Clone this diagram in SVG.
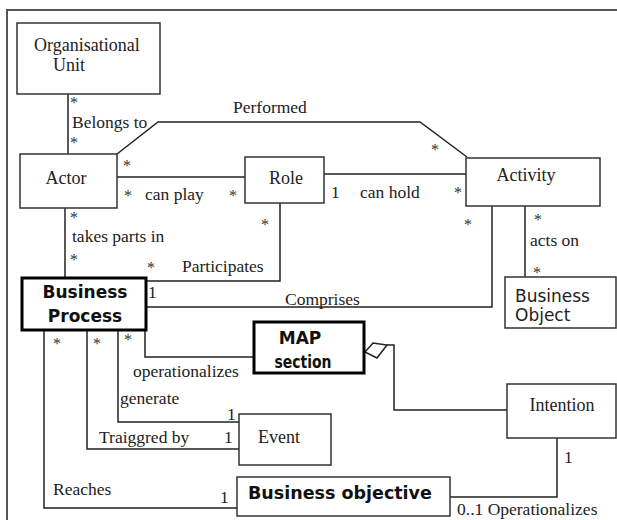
<svg xmlns="http://www.w3.org/2000/svg" width="617" height="520" viewBox="0 0 617 520">
<style>
.box{fill:#fff;stroke:#333;stroke-width:1.5}
.bbox{fill:#fff;stroke:#000;stroke-width:3}
.ln{fill:none;stroke:#222;stroke-width:1.5}
.frame{fill:none;stroke:#555;stroke-width:2}
.n{font-family:"Liberation Serif","Times New Roman",serif;font-size:18px;fill:#222}
.t{font-family:"Liberation Serif","Times New Roman",serif;font-size:17.5px;fill:#222}
.st{font-family:"Liberation Serif","Times New Roman",serif;font-size:16px;fill:#333}
.sb{font-family:"DejaVu Sans",Verdana,sans-serif;font-size:17px;font-weight:bold;fill:#111}
.sr{font-family:"DejaVu Sans",Verdana,sans-serif;font-size:17px;fill:#222}
.c{text-anchor:middle}
</style>
<rect width="617" height="520" fill="#fff"/>
<path class="frame" d="M7,520 V10 H617"/>

<g id="connectors">
  <path class="ln" d="M68,94 V154"/>
  <path class="ln" d="M117,154 L158,122 H420 L467,157"/>
  <path class="ln" d="M117,177 H245"/>
  <path class="ln" d="M324,174 H466"/>
  <path class="ln" d="M65,208 V278"/>
  <path class="ln" d="M280,203 V281 H146"/>
  <path class="ln" d="M492,206 V307 H146"/>
  <path class="ln" d="M525,206 V277"/>
  <path class="ln" d="M145,330 V357 H254"/>
  <path class="ln" d="M118,330 V422 H239"/>
  <path class="ln" d="M87,330 V449 H239"/>
  <path class="ln" d="M44,330 V508 H237"/>
  <path class="ln" d="M365,352 L373,343 L387,345 L377,358 Z"/>
  <path class="ln" d="M387,345 H394 V410 H507"/>
  <path class="ln" d="M557,438 V497 H450"/>
</g>

<g id="labels">
  <text class="st" x="70" y="108">*</text>
  <text class="t" x="72" y="128">Belongs to</text>
  <text class="st" x="70" y="148">*</text>
  <text class="t" x="233" y="113">Performed</text>
  <text class="st" x="123" y="171">*</text>
  <text class="st" x="431" y="155">*</text>
  <text class="st" x="124" y="201">*</text>
  <text class="t" x="145" y="200">can play</text>
  <text class="st" x="229" y="201">*</text>
  <text class="t" x="331" y="198">1</text>
  <text class="t" x="360" y="198">can hold</text>
  <text class="st" x="454" y="198">*</text>
  <text class="st" x="464" y="230">*</text>
  <text class="st" x="534" y="225">*</text>
  <text class="t" x="530" y="246">acts on</text>
  <text class="st" x="533" y="278">*</text>
  <text class="st" x="70" y="223">*</text>
  <text class="t" x="72" y="242">takes parts in</text>
  <text class="st" x="70" y="265">*</text>
  <text class="st" x="261" y="230">*</text>
  <text class="st" x="147" y="273">*</text>
  <text class="t" x="182" y="272">Participates</text>
  <text class="t" x="148" y="298">1</text>
  <text class="t" x="285" y="305">Comprises</text>
  <text class="st" x="53" y="349">*</text>
  <text class="st" x="93" y="349">*</text>
  <text class="st" x="124" y="345">*</text>
  <text class="t" x="133" y="377">operationalizes</text>
  <text class="t" x="120" y="404">generate</text>
  <text class="t" x="227" y="420">1</text>
  <text class="t" x="99" y="443">Traiggred by</text>
  <text class="t" x="224" y="443">1</text>
  <text class="t" x="53" y="495">Reaches</text>
  <text class="t" x="220" y="503">1</text>
  <text class="t" x="564" y="463">1</text>
  <text class="t" x="457" y="515">0..1 Operationalizes</text>
</g>

<g id="organisational-unit">
  <rect class="box" x="17" y="23" width="143" height="71"/>
  <text class="n" x="34" y="51">Organisational</text>
  <text class="n" x="53" y="71">Unit</text>
</g>
<g id="actor">
  <rect class="box" x="20" y="154" width="97" height="54"/>
  <text class="n c" x="66" y="184">Actor</text>
</g>
<g id="role">
  <rect class="box" x="245" y="157" width="79" height="46"/>
  <text class="n c" x="286" y="184">Role</text>
</g>
<g id="activity">
  <rect class="box" x="466" y="158" width="134" height="48"/>
  <text class="n c" x="526" y="181">Activity</text>
</g>
<g id="business-object">
  <rect class="box" x="505" y="277" width="111" height="51"/>
  <text class="sr" x="515" y="302">Business</text>
  <text class="sr" x="515" y="321">Object</text>
</g>
<g id="business-process">
  <rect class="bbox" x="22" y="278" width="124" height="52"/>
  <text class="sb c" x="85" y="298">Business</text>
  <text class="sb c" x="85" y="322">Process</text>
</g>
<g id="map-section">
  <rect class="bbox" x="254" y="322" width="110" height="51"/>
  <text class="sb c" x="300" y="344">MAP</text>
  <text class="sb c" x="303" y="368" textLength="57" lengthAdjust="spacingAndGlyphs">section</text>
</g>
<g id="intention">
  <rect class="box" x="507" y="384" width="109" height="54"/>
  <text class="n c" x="562" y="411">Intention</text>
</g>
<g id="event">
  <rect class="box" x="239" y="414" width="92" height="51"/>
  <text class="n" x="258" y="443">Event</text>
</g>
<g id="business-objective">
  <rect class="box" x="237" y="477" width="213" height="39"/>
  <text class="sb" x="248" y="499" style="font-size:17.5px">Business objective</text>
</g>
</svg>
